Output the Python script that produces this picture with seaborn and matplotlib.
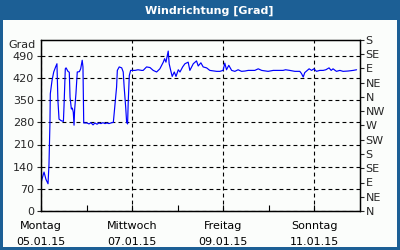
import matplotlib
matplotlib.use("Agg")
import matplotlib.pyplot as plt
import matplotlib.dates as mdates
from matplotlib.patches import Rectangle
import seaborn as sns
import pandas as pd

# --- data (hours since 05.01.15 00:00, wind direction in degrees) ---
hours = [0, 0.5, 1.6, 2.6, 3.7, 4.2, 4.7, 4.9, 5.8, 6.7, 7.7, 8.4, 8.9, 9.5, 10.7,
         11.8, 12.1, 12.8, 13.2, 14.2, 14.9, 15.3, 16.0, 16.5, 17.0, 17.4, 17.7,
         18.4, 19.1, 20.2, 20.9, 21.7, 22.1, 22.5, 24.2, 25.3, 26.3, 27.4, 28.4,
         29.5, 30.5, 31.6, 32.6, 33.7, 34.7, 35.8, 36.8, 38.1, 38.9, 39.8, 40.2,
         41.2, 42.5, 43.3, 43.8, 44.6, 45.1, 45.6, 45.9, 46.5, 47.2, 49.5, 51.1,
         53.0, 53.8, 55.6, 57.4, 59.1, 60.9, 62.6, 64.4, 65.1, 65.8, 67.0, 67.5,
         68.3, 69.1, 70.2, 71.1, 72.3, 73.2, 74.6, 75.8, 77.5, 78.4, 80.2, 81.9,
         82.8, 84.2, 85.4, 87.2, 88.9, 92.5, 94.2, 95.9, 96.8, 97.7, 98.9, 100.4,
         102.1, 103.8, 105.6, 107.4, 109.1, 112.6, 114.4, 116.2, 119.6, 122.3,
         125.8, 127.5, 128.8, 131.0, 133.7, 136.3, 137.2, 138.1, 138.9, 140.2,
         141.2, 142.5, 143.7, 145.1, 146.8, 148.6, 150.0, 151.7, 152.8, 153.8,
         155.6, 157.4, 159.1, 161.7, 164.4, 166.2]
degrees = [87, 100, 123, 100, 86, 147, 275, 370, 412, 439, 455, 465, 350, 290, 285,
           283, 328, 449, 452, 441, 438, 359, 322, 325, 312, 271, 319,
           370, 439, 440, 449, 476, 455, 278, 278, 275, 279, 272, 278,
           274, 278, 276, 279, 276, 278, 276, 278, 280, 333, 391, 444,
           455, 452, 439, 391, 328, 280, 275, 338, 428, 444, 444, 446,
           444, 444, 455, 453, 444, 439, 449, 470, 481, 470, 505, 465,
           444, 425, 439, 425, 446, 439, 455, 465, 470, 444, 465, 474,
           458, 468, 455, 452, 444, 441, 441, 444, 467, 446, 460, 444,
           441, 446, 441, 442, 444, 444, 449, 444, 441, 444,
           444, 444, 446, 444, 441, 441, 434, 423, 437, 444,
           449, 444, 449, 441, 444, 444, 446, 452, 444, 449,
           441, 444, 441, 442, 444, 446]

left_ticks = [0, 70, 140, 210, 280, 350, 420, 490]
right_ticks = [0, 45, 90, 135, 180, 225, 270, 315, 360, 405, 450, 495, 540]
right_labels = ["N", "NE", "E", "SE", "S", "SW", "W", "NW", "N", "NE", "E", "SE", "S"]
x_dates = ["2015-01-05", "2015-01-07", "2015-01-09", "2015-01-11"]
x_labels = ["Montag\n05.01.15", "Mittwoch\n07.01.15", "Freitag\n09.01.15", "Sonntag\n11.01.15"]
minor_dates = ["2015-01-06", "2015-01-08", "2015-01-10"]

start = pd.Timestamp("2015-01-05")
df = pd.DataFrame({"time": start + pd.to_timedelta(hours, unit="h"), "deg": degrees})

sns.set_style("white")
plt.rcParams['font.family'] = ['DejaVu Sans']

BLUE = "#1c5f95"
W, H = 400, 250
fig = plt.figure(figsize=(4, 2.5), dpi=100, facecolor="#fbfdfb")
fig.patch.set_edgecolor(BLUE)
fig.patch.set_linewidth(2.9)
fig.patches.append(Rectangle((0, 1 - 20 / H), 1, 20 / H, transform=fig.transFigure,
                             facecolor=BLUE, edgecolor="none", zorder=0))
fig.text(209 / W, 1 - 10.5 / H, "Windrichtung [Grad]", color="white", fontweight="bold",
         ha="center", va="center", fontsize=8)

ax = fig.add_axes([41 / W, 1 - 211 / H, 319 / W, 171 / H])
ax.set_facecolor("#fbfdfb")
sns.lineplot(data=df, x="time", y="deg", ax=ax, color="#0000ff", lw=0.85)

ax.set_xlim(start, start + pd.Timedelta(days=7))
ax.set_ylim(0, 540)
ax.set_xlabel("")
ax.set_ylabel("")
ax.set_yticks(left_ticks)
ax.set_yticklabels([str(v) for v in left_ticks], fontsize=8)
ax.set_xticks([mdates.date2num(pd.Timestamp(d)) for d in x_dates])
ax.set_xticklabels(x_labels, fontsize=8, linespacing=1.8)
ax.set_xticks([mdates.date2num(pd.Timestamp(d)) for d in minor_dates], minor=True)
ax.tick_params(axis="x", which="both", direction="in", length=4, width=0.8, pad=7,
               colors="black", bottom=True)
ax.tick_params(axis="y", direction="out", length=3, width=0.8, pad=2, left=True)
ax.grid(True, which="major", color="black", linestyle=(0, (3.5, 2.8)), linewidth=0.8)
for s in ax.spines.values():
    s.set_color("black")
    s.set_linewidth(0.9)

ax2 = ax.twinx()
ax2.set_ylim(0, 540)
ax2.set_yticks(right_ticks)
ax2.set_yticklabels(right_labels, fontsize=8)
ax2.tick_params(axis="y", direction="out", length=3, width=0.8, pad=1, right=True)
ax2.grid(False)
for s in ax2.spines.values():
    s.set_color("black")
    s.set_linewidth(0.9)

fig.text(36 / W, 1 - 45 / H, "Grad", ha="right", va="center", fontsize=8)

fig.savefig("out.png", dpi=100, facecolor=fig.get_facecolor(), edgecolor=BLUE)
